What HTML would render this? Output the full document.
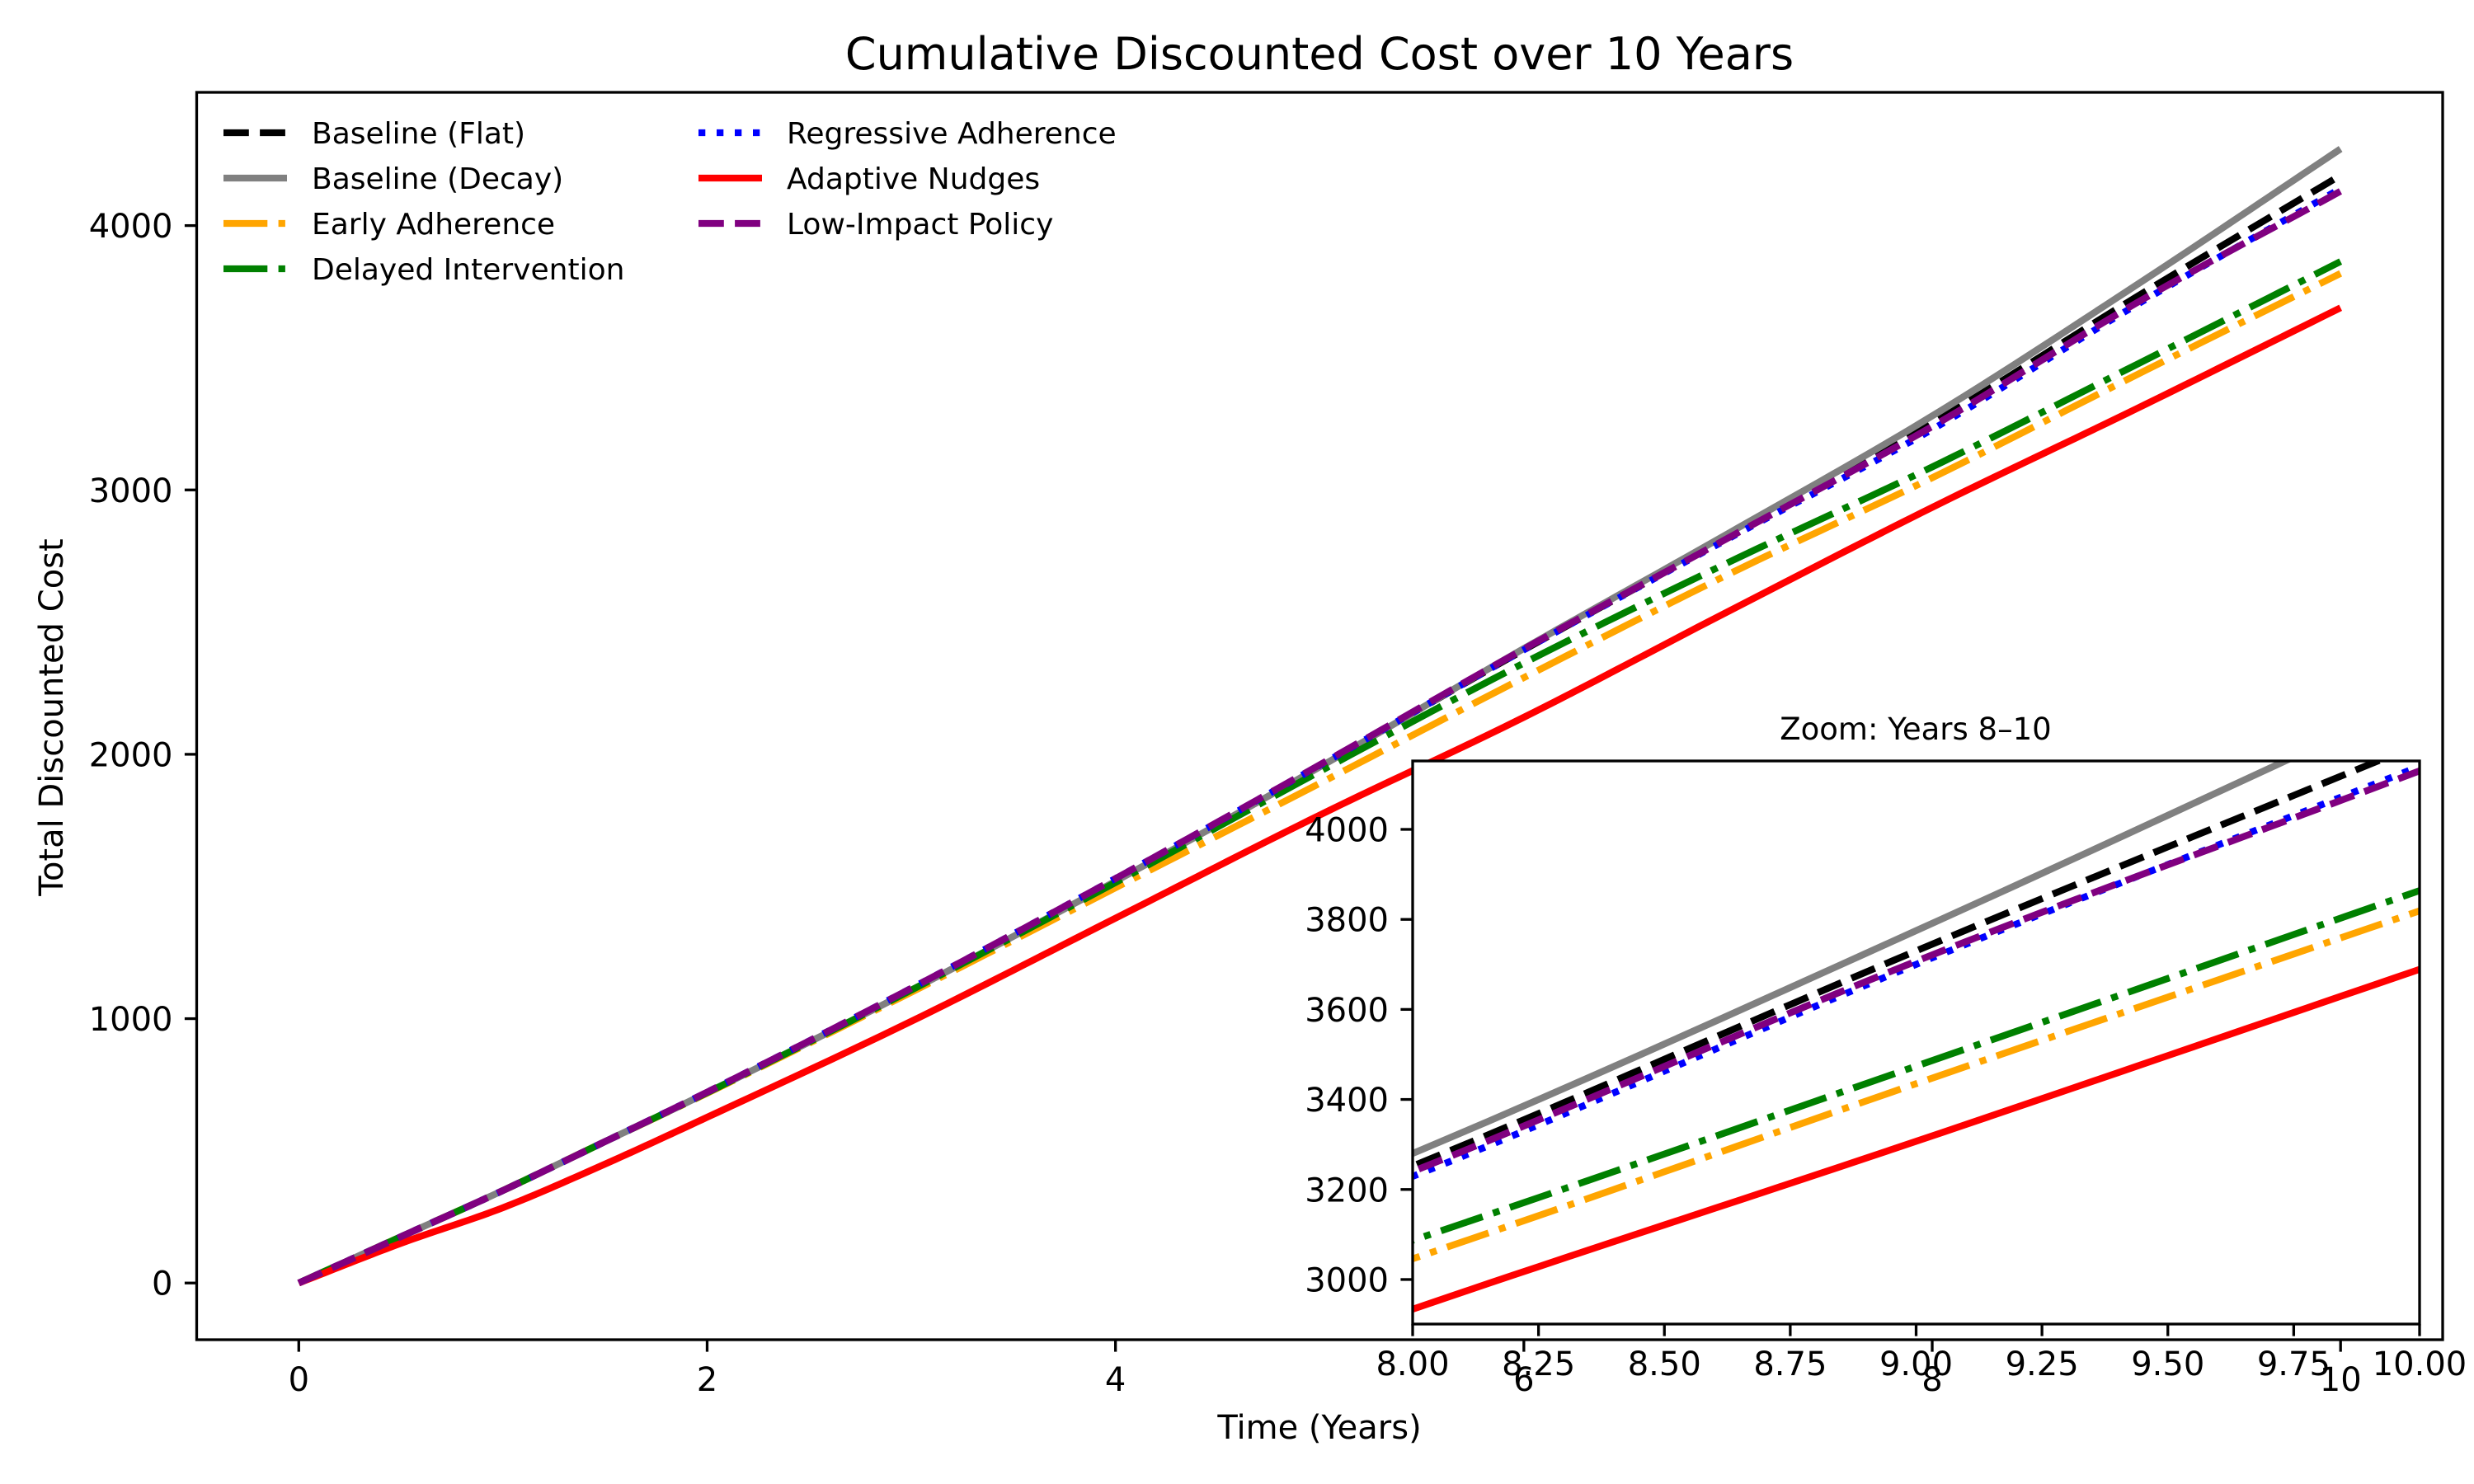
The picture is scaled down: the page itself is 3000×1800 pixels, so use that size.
<!DOCTYPE html>
<html><head><meta charset="utf-8"><style>
html,body{margin:0;padding:0;background:#fff;width:3000px;height:1800px;overflow:hidden;}
svg{display:block;font-family:"DejaVu Sans","Liberation Sans",sans-serif;}
</style></head><body>
<svg id="chart" width="3000" height="1800" viewBox="0 0 3000 1800" xmlns="http://www.w3.org/2000/svg">
<rect width="3000" height="1800" fill="#fff"/>
<text x="1600" y="84" font-size="54" text-anchor="middle">Cumulative Discounted Cost over 10 Years</text>
<text x="1600" y="1745" font-size="40" text-anchor="middle">Time (Years)</text>
<text x="0" y="0" font-size="40" text-anchor="middle" transform="translate(76,870) rotate(-90)">Total Discounted Cost</text>
<g id="main"></g>
<g id="legend"></g>
<g id="inset"></g>
</svg>
<script>
const years = [0,0.5,1,1.5,2,3,4,5,6,7,8,9,10];
const baselineFlat   = [0,175,350,535,720,1110,1525,1955,2395,2820,3252,3730,4190];
const baselineDecay  = [0,175,350,535,720,1108,1520,1952,2400,2835,3280,3775,4290];
const earlyAdherence = [0,175,350,535,718,1100,1495,1890,2290,2680,3046,3435,3819];
const delayedInterv  = [0,175,350,535,720,1108,1515,1935,2345,2725,3087,3474,3864];
const regressive     = [0,175,350,535,722,1115,1530,1958,2395,2815,3229,3700,4140];
const adaptiveNudges = [0,150,285,450,627,990,1380,1770,2140,2540,2934,3307,3689];
const lowImpact      = [0,175,350,535,722,1115,1530,1960,2398,2818,3240,3707,4130];
const seriesNames = ["Baseline (Flat)","Baseline (Decay)","Early Adherence","Delayed Intervention","Regressive Adherence","Adaptive Nudges","Low-Impact Policy"];
const xTicksMain = [0,2,4,6,8,10];
const yTicksMain = [0,1000,2000,3000,4000];
const xTicksInset = [8,8.25,8.5,8.75,9,9.25,9.5,9.75,10];
const xTickLabelsInset = ["8.00","8.25","8.50","8.75","9.00","9.25","9.50","9.75","10.00"];
const yTicksInset = [3000,3200,3400,3600,3800,4000];

const NS="http://www.w3.org/2000/svg";
const LW=8.3;
const styles=[
 {c:"#000000",d:"30.8 13.3"},
 {c:"#808080",d:""},
 {c:"#FFA500",d:"53.3 13.3 8.3 13.3"},
 {c:"#008000",d:"53.3 13.3 8.3 13.3"},
 {c:"#0000FF",d:"8.3 13.7"},
 {c:"#FF0000",d:""},
 {c:"#800080",d:"30.8 13.3"}
];
const data=[baselineFlat,baselineDecay,earlyAdherence,delayedInterv,regressive,adaptiveNudges,lowImpact];
const keys=["baseline-flat","baseline-decay","early-adherence","delayed-intervention","regressive-adherence","adaptive-nudges","low-impact-policy"];

function mk(tag,attrs,parent){const e=document.createElementNS(NS,tag);for(const k in attrs)e.setAttribute(k,attrs[k]);parent.appendChild(e);return e;}
function scale(d0,d1,r0,r1){return v=>r0+(v-d0)/(d1-d0)*(r1-r0);}
function pathFor(xs,ys,sx,sy){
  const n=xs.length,m=[],dl=[];
  for(let i=0;i<n-1;i++)dl.push((ys[i+1]-ys[i])/(xs[i+1]-xs[i]));
  m[0]=dl[0];m[n-1]=dl[n-2];
  for(let i=1;i<n-1;i++)m[i]=(dl[i-1]*dl[i]<=0)?0:(dl[i-1]+dl[i])/2;
  let d="";
  for(let i=0;i<n-1;i++){
    const h=xs[i+1]-xs[i];
    for(let k=(i===0?0:1);k<=20;k++){
      const t=k/20,t2=t*t,t3=t2*t;
      const y=(2*t3-3*t2+1)*ys[i]+(t3-2*t2+t)*h*m[i]+(-2*t3+3*t2)*ys[i+1]+(t3-t2)*h*m[i+1];
      const x=xs[i]+t*h;
      d+=(d?"L":"M")+sx(x).toFixed(2)+","+sy(y).toFixed(2);
    }
  }
  return d;
}
function drawAxes(g,L,T,R,B,xd,yd,xt,xtl,yt,name,fs){
  const sx=scale(xd[0],xd[1],L,R), sy=scale(yd[0],yd[1],B,T);
  mk("rect",{x:L,y:T,width:R-L,height:B-T,fill:"#fff"},g);
  const cid="clip-"+name;
  const cp=mk("clipPath",{id:cid},g);mk("rect",{x:L,y:T,width:R-L,height:B-T},cp);
  const lines=mk("g",{"clip-path":"url(#"+cid+")"},g);
  data.forEach((s,i)=>{
    const p=mk("path",{d:pathFor(years,s,sx,sy),fill:"none",stroke:styles[i].c,"stroke-width":LW,"stroke-linecap":"butt","stroke-linejoin":"round"},lines);
    if(styles[i].d)p.setAttribute("stroke-dasharray",styles[i].d);
    
    
  });
  xt.forEach((v,i)=>{
    const x=sx(v);
    const t=mk("line",{x1:x,y1:B,x2:x,y2:B+14.6,stroke:"#000","stroke-width":3.3},g);
    
    
    const tx=mk("text",{x:x,y:B+62,"font-size":fs,"text-anchor":"middle"},g);
    tx.textContent=xtl?xtl[i]:String(v);
    
    
  });
  yt.forEach(v=>{
    const y=sy(v);
    const t=mk("line",{x1:L-14.6,y1:y,x2:L,y2:y,stroke:"#000","stroke-width":3.3},g);
    
    
    const tx=mk("text",{x:L-29,y:y+14.5,"font-size":fs,"text-anchor":"end"},g);
    tx.textContent=String(v);
    
    
  });
  const fr=mk("rect",{x:L,y:T,width:R-L,height:B-T,fill:"none",stroke:"#000","stroke-width":3.3},g);
  
  
}
drawAxes(document.getElementById("main"),238.5,112,2962,1625,[-0.5,10.5],[-214.5,4504],xTicksMain,null,yTicksMain,"main",40);
const ins=document.getElementById("inset");
drawAxes(ins,1713,923,2934,1606,[8,10],[2901,4152],xTicksInset,xTickLabelsInset,yTicksInset,"inset",40);
const it=mk("text",{x:2323,y:897,"font-size":37,"text-anchor":"middle"},ins);
it.textContent="Zoom: Years 8\u201310";



const lg=document.getElementById("legend");
seriesNames.forEach((nm,i)=>{
  const col=i<4?0:1,row=i<4?i:i-4;
  const hx=col?847:271, tx=col?954:378, y=161+row*55;
  const l=mk("line",{x1:hx,y1:y,x2:hx+77,y2:y,stroke:styles[i].c,"stroke-width":LW},lg);
  if(styles[i].d)l.setAttribute("stroke-dasharray",styles[i].d);
  
  
  const t=mk("text",{x:tx,y:y+13,"font-size":36},lg);
  t.textContent=nm;
  
  
});
</script>
</body></html>
